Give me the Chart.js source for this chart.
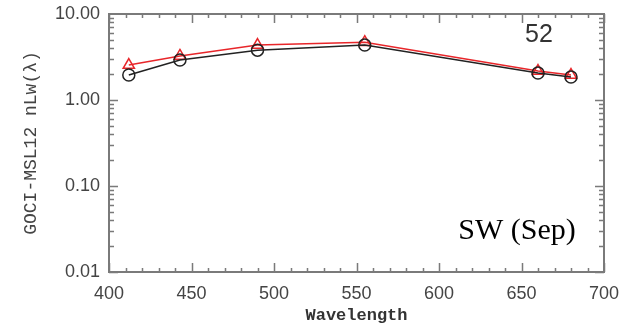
<!DOCTYPE html>
<html><head><meta charset="utf-8">
<script src="https://cdn.jsdelivr.net/npm/chart.js@4"></script>
<style>html,body{margin:0;padding:0;background:#fff}#wrap{width:621px;height:326px}</style>
</head><body><div id="wrap"><canvas id="c" width="621" height="326"></canvas></div>
<script>
// Normalized water-leaving radiance spectra (station 52, SW region, September)
const wavelengths = [412, 443, 490, 555, 660, 680];
const gociValues  = [1.95, 2.92, 3.80, 4.36, 2.06, 1.85];
const msl12Values = [2.55, 3.25, 4.36, 4.70, 2.17, 1.95];
const xTickValues = [400, 450, 500, 550, 600, 650, 700];
const yTickValues = [0.01, 0.1, 1, 10];
const stationLabel = '52';
const regionLabel = 'SW (Sep)';

// Frame with inward IDL-style tick marks on all four sides, plus text annotations
const framePlugin = {
  id: 'frame',
  afterDraw(chart) {
    const {ctx, chartArea: a, scales: {x, y}} = chart;
    ctx.save();
    ctx.strokeStyle = '#7a7a7a';
    ctx.lineWidth = 1.5;
    ctx.beginPath();
    for (let v = 400; v <= 700; v += 10) {
      const px = Math.round(x.getPixelForValue(v)) + 0.5;
      const len = v % 50 === 0 ? 9 : 4;
      ctx.moveTo(px, a.bottom); ctx.lineTo(px, a.bottom - len);
      ctx.moveTo(px, a.top); ctx.lineTo(px, a.top + len);
    }
    for (const d of [0.01, 0.1, 1]) {
      for (let m = 1; m <= 9; m++) {
        const py = Math.round(y.getPixelForValue(m * d)) + 0.5;
        const len = m === 1 ? 9 : 5;
        ctx.moveTo(a.left, py); ctx.lineTo(a.left + len, py);
        ctx.moveTo(a.right, py); ctx.lineTo(a.right - len, py);
      }
    }
    ctx.stroke();
    ctx.lineWidth = 2;
    ctx.strokeRect(a.left, a.top, a.right - a.left, a.bottom - a.top);

    ctx.fillStyle = '#333';
    ctx.textAlign = 'center';
    ctx.textBaseline = 'middle';
    ctx.font = '25px "Liberation Sans", Arial, sans-serif';
    ctx.fillText(stationLabel, 539, 35);
    ctx.fillStyle = '#000';
    ctx.textBaseline = 'alphabetic';
    ctx.font = '30px "Liberation Serif", "Times New Roman", serif';
    ctx.fillText(regionLabel, 517, 239);
    ctx.restore();
  }
};

const noOverflow = s => { s.paddingTop = 0; s.paddingBottom = 0; s.paddingLeft = 0; s.paddingRight = 0; };

new Chart(document.getElementById('c'), {
  type: 'line',
  data: {
    datasets: [
      {
        label: 'GOCI',
        data: wavelengths.map((w, i) => ({x: w, y: gociValues[i]})),
        borderColor: '#222',
        backgroundColor: 'rgba(0,0,0,0)',
        borderWidth: 1.5,
        pointStyle: 'circle',
        pointRadius: 6,
        pointBorderWidth: 1.5,
        pointBorderColor: '#222',
        tension: 0
      },
      {
        label: 'MSL12',
        data: wavelengths.map((w, i) => ({x: w, y: msl12Values[i]})),
        borderColor: '#e8262a',
        backgroundColor: 'rgba(0,0,0,0)',
        borderWidth: 1.5,
        pointStyle: 'triangle',
        pointRadius: 6.5,
        pointBorderWidth: 1.5,
        pointBorderColor: '#e8262a',
        tension: 0
      }
    ]
  },
  options: {
    responsive: false,
    animation: false,
    devicePixelRatio: 1,
    layout: {padding: {top: 14, right: 17, left: 0, bottom: 0}},
    plugins: {legend: {display: false}, tooltip: {enabled: false}},
    scales: {
      x: {
        type: 'linear',
        min: 400, max: 700,
        afterFit(s) { s.height = 54; noOverflow(s); },
        afterBuildTicks(s) { s.ticks = xTickValues.map(v => ({value: v})); },
        grid: {display: false, drawTicks: false},
        border: {display: false},
        ticks: {
          padding: 11,
          color: '#444',
          font: {family: '"Liberation Sans", Arial, sans-serif', size: 18},
          callback: v => String(v)
        },
        title: {
          display: true,
          text: 'Wavelength',
          color: '#333',
          padding: {top: 0, bottom: 0},
          font: {family: '"Liberation Mono", "Courier New", monospace', size: 17, weight: 'bold'}
        }
      },
      y: {
        type: 'logarithmic',
        min: 0.01, max: 10,
        afterFit(s) { s.width = 109; noOverflow(s); },
        afterBuildTicks(s) { s.ticks = yTickValues.map(v => ({value: v})); },
        grid: {display: false, drawTicks: false},
        border: {display: false},
        ticks: {
          padding: 9,
          color: '#444',
          font: {family: '"Liberation Sans", Arial, sans-serif', size: 18},
          callback: v => Number(v).toFixed(2)
        },
        title: {
          display: true,
          text: 'GOCI-MSL12 nLw(λ)',
          color: '#444',
          padding: {top: 20, bottom: 0},
          font: {family: '"Liberation Mono", "Courier New", monospace', size: 18}
        }
      }
    }
  },
  plugins: [framePlugin]
});
</script>
</body></html>
